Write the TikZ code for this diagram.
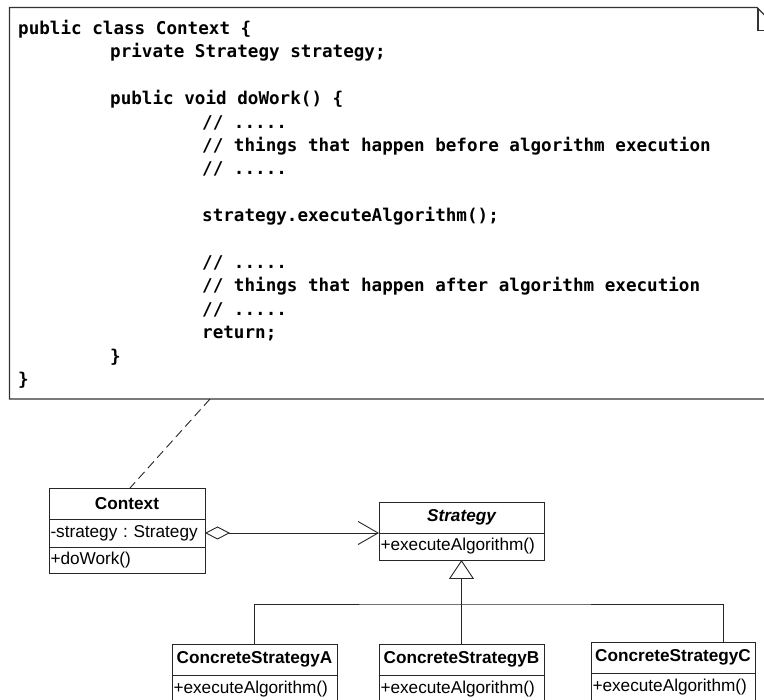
\documentclass[tikz,border=0pt]{standalone}
\usepackage{fontspec}
\setmainfont{Liberation Sans}
\newfontfamily\codefont{DejaVu Sans Mono}
\usetikzlibrary{arrows.meta,positioning}
\newcommand{\tabin}{\hspace*{92pt}}

\begin{document}
\begin{tikzpicture}[x=1pt,y=-1pt]
	\tikzset{ln/.style={draw=black!85, line width=0.9pt},
		notebox/.style={draw=black!80, line width=1.2pt},
		code/.style={inner sep=0pt, align=left, font=\codefont\bfseries\fontsize{17.6}{23.4}\selectfont},
		cname/.style={ln, outer sep=0pt, inner sep=0pt, minimum height=31pt, font=\fontsize{17.2}{20}\selectfont\bfseries},
		attr/.style={ln, outer sep=0pt, inner xsep=1.5pt, inner ysep=0pt, align=left, text width=#1, font=\fontsize{17.2}{20}\selectfont\frenchspacing},
		gen/.style={ln, -{Triangle[open, length=19pt, width=25pt]}}};
	\clip (0,0) rectangle (764,700);

	% the note with the code
	\draw[notebox] (9.5,7.5) -- (757,7.5) -- (781,31.5) -- (781,399) -- (9.5,399) -- cycle;
	\draw[notebox] (758,8) -- (758,30.5) -- (781,30.5);
	\node[code, anchor=north west] (src) at (18,20) {public class Context \{\\
		\tabin private Strategy strategy;\\
		\mbox{}\\
		\tabin public void doWork() \{\\
		\tabin\tabin // .....\\
		\tabin\tabin // things that happen before algorithm execution\\
		\tabin\tabin // .....\\
		\mbox{}\\
		\tabin\tabin strategy.executeAlgorithm();\\
		\mbox{}\\
		\tabin\tabin // .....\\
		\tabin\tabin // things that happen after algorithm execution\\
		\tabin\tabin // .....\\
		\tabin\tabin return;\\
		\tabin \}\\
		\}};
	\coordinate (notebot) at (210,399);

	% classes
	\node[cname, minimum width=156pt] (ctx) at (127,503.5) {Context};
	\node[attr=153pt, minimum height=28pt, below=0pt of ctx] (ctxattr) {-strategy : Strategy};
	\node[attr=153pt, minimum height=26pt, below=0pt of ctxattr] (ctxops) {+doWork()};

	\node[cname, minimum width=165pt, font=\fontsize{17.2}{20}\selectfont\bfseries\itshape] (strat) at (461.5,517.5) {Strategy};
	\node[attr=162pt, minimum height=27pt, below=0pt of strat] (stratops) {+executeAlgorithm()};

	\node[cname, minimum width=165pt] (csa) at (254.5,659.5) {ConcreteStrategyA};
	\node[attr=162pt, minimum height=28pt, below=0pt of csa] (csaops) {+executeAlgorithm()};
	\node[cname, minimum width=165pt] (csb) at (461.5,659.5) {ConcreteStrategyB};
	\node[attr=162pt, minimum height=28pt, below=0pt of csb] (csbops) {+executeAlgorithm()};
	\node[cname, minimum width=164pt] (csc) at (673,657.5) {ConcreteStrategyC};
	\node[attr=161pt, minimum height=28pt, below=0pt of csc] (cscops) {+executeAlgorithm()};

	% connectors
	\draw[ln, dashed, dash pattern=on 9pt off 5pt] (notebot) -- ([xshift=3pt]ctx.north);
	\draw[ln, {Diamond[open, fill=white, length=25pt, width=13pt]}-{Straight Barb[length=20pt, width=23pt]}] (ctxattr.east) -- (strat.south west);
	\coordinate (jn) at (461.5,604);
	\draw[ln] (csa.north) |- (jn) -| ([xshift=50pt]csc.north);
	\draw[ln] (csb.north) -- (jn);
	\draw[gen] (jn) -- (stratops.south);
\end{tikzpicture}
\end{document}
